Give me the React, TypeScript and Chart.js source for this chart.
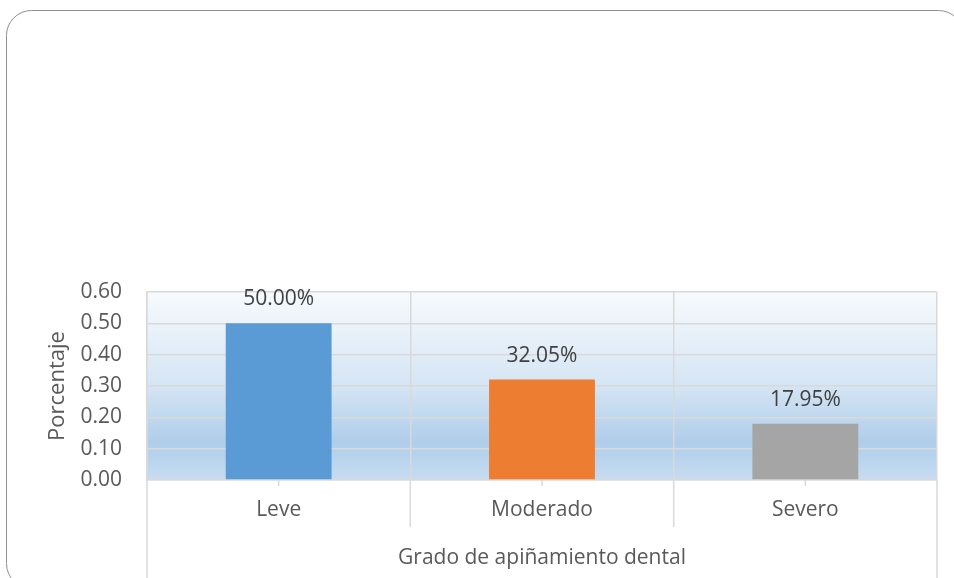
import React, { useEffect, useRef } from "react";
import { Chart, registerables } from "chart.js";

Chart.register(...registerables);

const categories = ["Leve", "Moderado", "Severo"];
const values = [0.5, 0.3205, 0.1795];
const barColors = ["#5B9BD5", "#ED7D31", "#A5A5A5"];
const yTickValues = [0, 0.1, 0.2, 0.3, 0.4, 0.5, 0.6];
const xTitle = "Grado de apiñamiento dental";
const yTitle = "Porcentaje";

const FONT = "'Open Sans', sans-serif";
const GRID = "#d9d9d9";

const framePlugin = {
  id: "frame",
  beforeDraw(chart: any) {
    const { ctx, chartArea } = chart;
    ctx.save();
    ctx.fillStyle = "#ffffff";
    ctx.fillRect(0, 0, chart.width, chart.height);
    const x = 6.5, y = 10.5, w = 957, h = 578, r = 25;
    ctx.beginPath();
    ctx.moveTo(x + r, y);
    ctx.lineTo(x + w - r, y);
    ctx.arcTo(x + w, y, x + w, y + r, r);
    ctx.lineTo(x + w, y + h - r);
    ctx.arcTo(x + w, y + h, x + w - r, y + h, r);
    ctx.lineTo(x + r, y + h);
    ctx.arcTo(x, y + h, x, y + h - r, r);
    ctx.lineTo(x, y + r);
    ctx.arcTo(x, y, x + r, y, r);
    ctx.closePath();
    ctx.strokeStyle = "#8f8f8f";
    ctx.lineWidth = 1;
    ctx.stroke();
    const g = ctx.createLinearGradient(0, chartArea.top, 0, chartArea.bottom);
    g.addColorStop(0, "#f7fafd");
    g.addColorStop(0.5, "#d5e5f4");
    g.addColorStop(0.8, "#afcdea");
    g.addColorStop(1, "#c7dcf1");
    ctx.fillStyle = g;
    ctx.fillRect(chartArea.left, chartArea.top, chartArea.right - chartArea.left, chartArea.bottom - chartArea.top);
    ctx.restore();
  },
};

const extPlugin = {
  id: "ext",
  afterDraw(chart: any) {
    const { ctx, chartArea } = chart;
    const xs = chart.scales.x;
    const n = categories.length;
    ctx.save();
    ctx.strokeStyle = GRID;
    ctx.lineWidth = 1.5;
    for (let i = 0; i <= n; i++) {
      const px = xs.getPixelForValue(i - 0.5);
      const end = i === 0 || i === n ? chart.height : chartArea.bottom + 47;
      ctx.beginPath();
      ctx.moveTo(px, chartArea.bottom);
      ctx.lineTo(px, end);
      ctx.stroke();
    }
    for (let i = 0; i < n; i++) {
      const px = xs.getPixelForValue(i);
      ctx.beginPath();
      ctx.moveTo(px, chartArea.bottom);
      ctx.lineTo(px, chartArea.bottom + 6);
      ctx.stroke();
    }
    ctx.restore();
  },
};

const labelPlugin = {
  id: "barLabels",
  afterDatasetsDraw(chart: any) {
    const { ctx } = chart;
    const meta = chart.getDatasetMeta(0);
    ctx.save();
    ctx.font = `21px ${FONT}`;
    ctx.fillStyle = "#404040";
    ctx.textAlign = "center";
    ctx.textBaseline = "middle";
    meta.data.forEach((bar: any, i: number) => {
      ctx.fillText((values[i] * 100).toFixed(2) + "%", bar.x, bar.y - 24);
    });
    ctx.restore();
  },
};

export default function App() {
  const ref = useRef<HTMLCanvasElement>(null);
  useEffect(() => {
    document.body.style.margin = "0";
    if (!ref.current) return;
    const chart = new Chart(ref.current, {
      type: "bar",
      data: {
        labels: categories,
        datasets: [
          {
            data: values,
            backgroundColor: barColors,
            barPercentage: 0.402,
            categoryPercentage: 1,
          },
        ],
      },
      options: {
        animation: false,
        responsive: false,
        devicePixelRatio: 1,
        layout: { padding: { left: 0, top: 292, right: 17, bottom: 0 } },
        plugins: { legend: { display: false }, tooltip: { enabled: false } },
        scales: {
          x: {
            grid: { color: GRID, lineWidth: 1.5, drawTicks: false, offset: true },
            border: { color: GRID, width: 1.5 },
            ticks: { color: "#595959", font: { family: FONT, size: 21 }, padding: 17 },
            title: {
              display: true,
              text: xTitle,
              color: "#595959",
              font: { family: FONT, size: 21 },
              padding: { top: 0, bottom: 7 },
            },
            afterFit: (s: any) => {
              s.height = 98;
            },
          },
          y: {
            min: 0,
            max: 0.6,
            afterBuildTicks: (s: any) => {
              s.ticks = yTickValues.map((v) => ({ value: v }));
            },
            grid: { color: GRID, lineWidth: 1.5, drawTicks: false },
            border: { color: GRID, width: 1.5 },
            ticks: {
              color: "#595959",
              font: { family: FONT, size: 21 },
              padding: 25,
              callback: (v: any) => Number(v).toFixed(2),
            },
            title: {
              display: true,
              text: yTitle,
              color: "#595959",
              font: { family: FONT, size: 22 },
              padding: { top: 45, bottom: 0 },
            },
            afterFit: (s: any) => {
              s.width = 147;
            },
          },
        },
      },
      plugins: [framePlugin, extPlugin, labelPlugin],
    });
    return () => chart.destroy();
  }, []);
  return (
    <div style={{ position: "absolute", left: 0, top: 0, width: 954, height: 578 }}>
      <canvas ref={ref} width={954} height={578} />
    </div>
  );
}
